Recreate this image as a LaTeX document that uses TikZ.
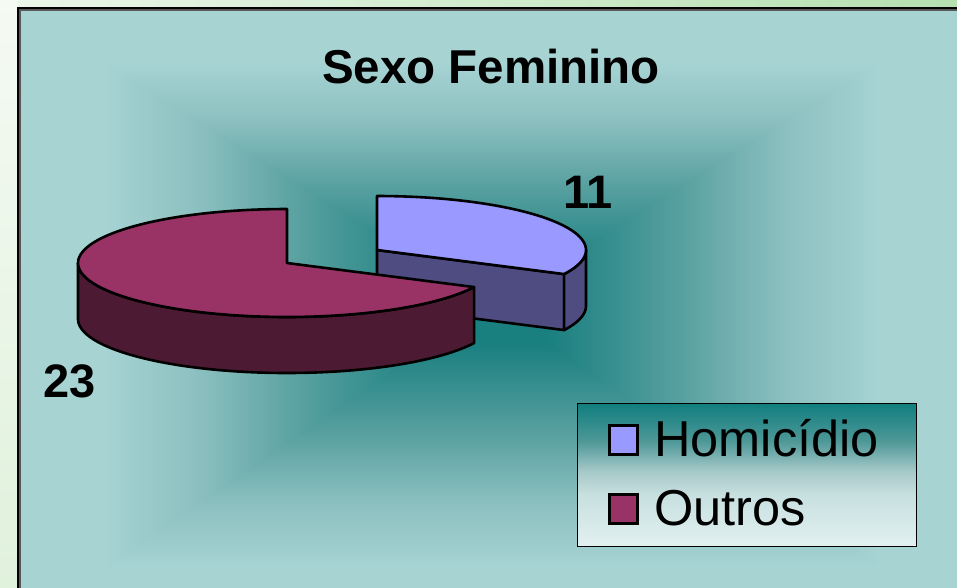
\documentclass[tikz,border=0pt]{standalone}
\usepackage{fontspec}
\setmainfont{Liberation Sans}
\definecolor{bgL}{RGB}{167,211,211}
\definecolor{bgL2}{RGB}{140,192,192}
\definecolor{bgM}{RGB}{88,160,160}
\definecolor{bgD}{RGB}{26,127,127}
\definecolor{legT}{RGB}{17,126,126}
\definecolor{legM}{RGB}{78,152,152}
\definecolor{legM2}{RGB}{169,202,202}
\definecolor{legM3}{RGB}{200,224,224}
\definecolor{legB}{RGB}{226,240,240}
\definecolor{purT}{RGB}{153,153,255}
\definecolor{purS}{RGB}{78,76,128}
\definecolor{marT}{RGB}{153,51,102}
\definecolor{marS}{RGB}{76,26,50}
\definecolor{pgTopL}{RGB}{236,246,234}
\definecolor{pgTopR}{RGB}{181,224,176}
\definecolor{pgLeftT}{RGB}{245,250,243}
\definecolor{pgLeftB}{RGB}{224,241,220}
\pgfdeclareverticalshading{bgv}{100bp}{color(0bp)=(bgD); color(25bp)=(bgD); color(31bp)=(bgD); color(45bp)=(bgM); color(56bp)=(bgL2); color(66bp)=(bgL); color(100bp)=(bgL)}
\pgfdeclareverticalshading{legv}{100bp}{color(0bp)=(legB); color(25bp)=(legB); color(43bp)=(legM3); color(51bp)=(legM2); color(62bp)=(legM); color(75bp)=(legT); color(100bp)=(legT)}
\tikzset{
  pieline/.style={draw=black, line width=2.6pt, line join=round},
  lbl/.style={inner sep=0pt, anchor=base, font=\fontsize{47}{56}\selectfont\bfseries},
  legtxt/.style={inner sep=0pt, anchor=base west, font=\fontsize{50.5}{60}\selectfont},
  legmark/.style={draw=black, line width=2.6pt, minimum size=28.5pt, inner sep=0pt}
}
\begin{document}
\begin{tikzpicture}[x=1pt, y=-1pt]
\useasboundingbox (0,0) rectangle (957,587);
% page background
\shade[left color=pgTopL, right color=pgTopR] (0,0) rectangle (957,9);
\shade[top color=pgLeftT, bottom color=pgLeftB] (0,0) rectangle (18,587);
% chart area gradient (rectangular, from centre)
\begin{scope}
\clip (18,8) rectangle (957,587);
\shade[shading=bgv] (18,8) rectangle (966,305);
\shade[shading=bgv, shading angle=180] (18,305) rectangle (966,625);
\shade[shading=bgv, shading angle=90] (18,8) -- (490,305) -- (18,625) -- cycle;
\shade[shading=bgv, shading angle=270] (966,8) -- (490,305) -- (966,625) -- cycle;
\end{scope}
\draw[line width=2pt, gray!70!black] (19.5,589) -- (19.5,9.5) -- (960,9.5);
\draw[line width=2pt] (18,589) -- (18,8) -- (960,8);
% title
\node[inner sep=0pt, anchor=base, font=\fontsize{47.5}{57}\selectfont\bfseries] (title) at (491,83) {Sexo Feminino};
% purple slice (exploded)
\filldraw[pieline, fill=purS] (377,250) -- ({377+209*cos(333.53)},{250-54*sin(333.53)}) -- ++(0,56) -- (377,306) -- cycle;
\filldraw[pieline, fill=purS] plot[domain=333.53:360, samples=20, variable=\t] ({377+209*cos(\t)},{250-54*sin(\t)}) -- plot[domain=360:333.53, samples=20, variable=\t] ({377+209*cos(\t)},{306-54*sin(\t)}) -- cycle;
\filldraw[pieline, fill=purT] (377,250) -- plot[domain=333.53:450, samples=80, variable=\t] ({377+209*cos(\t)},{250-54*sin(\t)}) -- cycle;
% maroon slice
\filldraw[pieline, fill=marS] plot[domain=180:333.53, samples=80, variable=\t] ({287+209*cos(\t)},{263-54*sin(\t)}) -- plot[domain=333.53:180, samples=80, variable=\t] ({287+209*cos(\t)},{319-54*sin(\t)}) -- cycle;
\filldraw[pieline, fill=marT] (287,263) -- plot[domain=90:333.53, samples=100, variable=\t] ({287+209*cos(\t)},{263-54*sin(\t)}) -- cycle;
% value labels
\node[lbl] (v11) at (588,208) {11};
\node[lbl] (v23) at (70,397) {23};
% legend
\node[draw=black, line width=1.2pt, shade, shading=legv, minimum width=339pt, minimum height=143pt, inner sep=0pt, anchor=north west] (legend) at (577,403) {};
\node[legmark, fill=purT] (mk1) at (623.5,440) {};
\node[legmark, fill=marT] (mk2) at (623.5,509) {};
\node[legtxt] (lg1) at (654,456) {Homicídio};
\node[legtxt] (lg2) at (654,525) {Outros};
\end{tikzpicture}
\end{document}
